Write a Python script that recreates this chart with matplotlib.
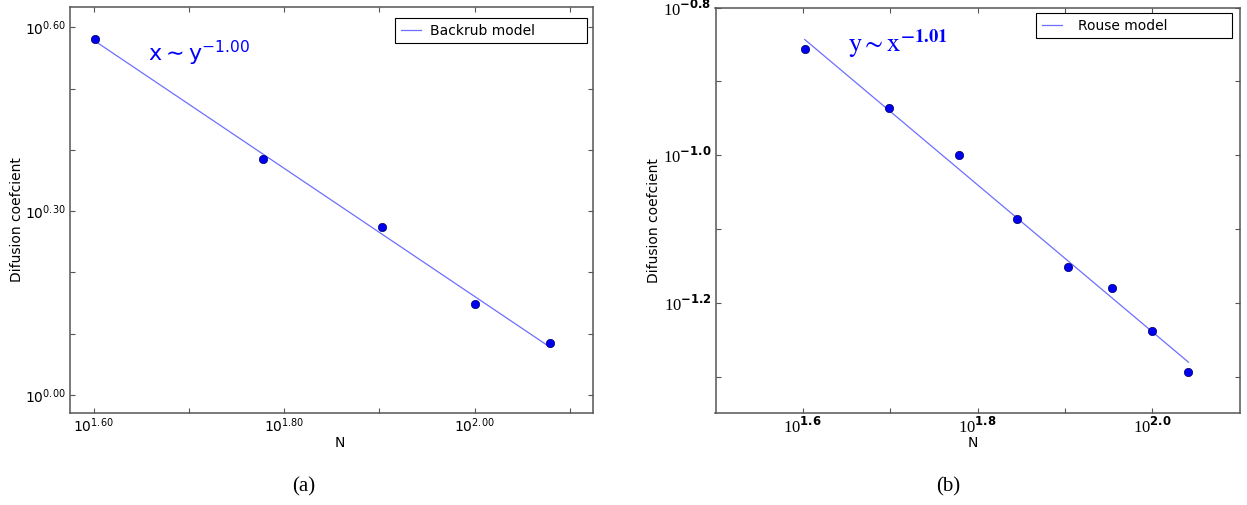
import numpy as np
import matplotlib
matplotlib.use('Agg')
import matplotlib.pyplot as plt
from matplotlib.ticker import FixedLocator, FuncFormatter, NullFormatter

plt.rcParams['mathtext.fontset'] = 'custom'
plt.rcParams['mathtext.rm'] = 'DejaVu Sans'
plt.rcParams['mathtext.sf'] = 'Liberation Serif'
plt.rcParams['mathtext.bf'] = 'DejaVu Sans:bold'

# (a) backrub model
n_backrub = [40, 60, 80, 100, 120]
d_backrub = [3.804, 2.423, 1.877, 1.406, 1.216]

# (b) rouse model
n_rouse = [40, 50, 60, 70, 80, 90, 100, 110]
d_rouse = [0.1392, 0.1157, 0.1002, 0.0819, 0.0705, 0.0660, 0.0577, 0.0509]

# tick exponents (labelled / unlabelled)
a_xmaj, a_xmin = [1.6, 1.8, 2.0], [1.7, 1.9, 2.1]
a_ymaj, a_ymin = [0.0, 0.3, 0.6], [0.1, 0.2, 0.4, 0.5]
b_xmaj, b_xmin = [1.6, 1.8, 2.0], [1.7, 1.9]
b_ymaj, b_ymin = [-0.8, -1.0, -1.2], [-0.9, -1.1, -1.3]

W, H = 1247, 505
SPINE = '#555555'
LINE = '#6e6eff'
DOT = '#0000ee'


def fit_line(n, d):
    lx, ly = np.log10(n), np.log10(d)
    k, b = np.polyfit(lx, ly, 1)
    return 10 ** lx, 10 ** (k * lx + b)


def style(ax, xmaj, xmin, ymaj, ymin, fmt, size):
    ax.set_xscale('log')
    ax.set_yscale('log')
    for axis, maj, mnr in ((ax.xaxis, xmaj, xmin), (ax.yaxis, ymaj, ymin)):
        axis.set_major_locator(FixedLocator(10 ** np.array(maj)))
        axis.set_minor_locator(FixedLocator(10 ** np.array(mnr)))
        axis.set_major_formatter(FuncFormatter(lambda v, p: fmt % np.log10(v)))
        axis.set_minor_formatter(NullFormatter())
    ax.tick_params(which='both', direction='in', top=True, right=True,
                   length=3.3, width=0.8, color=SPINE, labelsize=size, pad=3)
    for s in ax.spines.values():
        s.set_color(SPINE)
        s.set_linewidth(1.1)


fig = plt.figure(figsize=(W / 100, H / 100), dpi=100)

# ---- (a)
ax1 = fig.add_axes([70 / W, 1 - 412.7 / H, 523.3 / W, 405.4 / H])
style(ax1, a_xmaj, a_xmin, a_ymaj, a_ymin, r'$\mathrm{10}^{\mathrm{%.2f}}$', 10)
fx, fy = fit_line(n_backrub, d_backrub)
ax1.plot(fx, fy, color=LINE, lw=0.9, label='Backrub model')
ax1.plot(n_backrub, d_backrub, 'o', color=DOT, ms=6, mec='#000066', mew=0.5)
ax1.set_xlim(10 ** 1.5753, 10 ** 2.1247)
ax1.set_ylim(10 ** -0.0289, 10 ** 0.6326)
ax1.text(10 ** 1.657, 10 ** 0.544, r'$\mathrm{x} \sim \mathrm{y}^{-1.00}$',
         color='blue', fontsize=16, math_fontfamily='dejavusans', va='baseline')
ax1.set_xlabel('N', fontsize=10)
ax1.set_ylabel('Difusion coefcient', fontsize=10)
ax1.xaxis.set_label_coords(0.516, -0.058)
ax1.yaxis.set_label_coords(-0.088, 0.477)
leg = ax1.legend(loc='upper left', bbox_to_anchor=(0.621, 0.9112, 0.3675, 0.0617),
                 mode='expand', borderaxespad=0, fancybox=False, edgecolor='black',
                 framealpha=1, fontsize=10, handlelength=1.5, handletextpad=0.6)
leg.get_frame().set_linewidth(0.8)

# ---- (b)
ax2 = fig.add_axes([715.5 / W, 1 - 412.7 / H, 524.2 / W, 405.1 / H])
style(ax2, b_xmaj, b_xmin, b_ymaj, b_ymin, r'$\mathsf{10}^{\mathbf{%.1f}}$', 12)
fx, fy = fit_line(n_rouse, d_rouse)
ax2.plot(fx, fy, color=LINE, lw=0.9, label='Rouse model')
ax2.plot(n_rouse, d_rouse, 'o', color=DOT, ms=6, mec='#000066', mew=0.5)
ax2.set_xlim(10 ** 1.5, 10 ** 2.1)
ax2.set_ylim(10 ** -1.349, 10 ** -0.8)
ax2.text(10 ** 1.6514, 10 ** -0.86, r'$\mathrm{y} \sim \mathrm{x}^{\mathbf{-1.01}}$',
         color='blue', fontsize=19, math_fontfamily='stix', va='baseline')
ax2.set_xlabel('N', fontsize=10)
ax2.set_ylabel('Difusion coefcient', fontsize=10)
ax2.xaxis.set_label_coords(0.491, -0.058)
ax2.yaxis.set_label_coords(-0.104, 0.475)
leg = ax2.legend(loc='upper left', bbox_to_anchor=(0.6114, 0.9225, 0.3745, 0.0642),
                 mode='expand', borderaxespad=0, fancybox=False, edgecolor='black',
                 framealpha=1, fontsize=10, handlelength=1.5, handletextpad=1.1)
leg.get_frame().set_linewidth(0.8)

fig.text(303.7 / W, 1 - 487 / H, '(a)', family='Liberation Serif', fontsize=15,
         ha='center', va='center')
fig.text(948 / W, 1 - 487 / H, '(b)', family='Liberation Serif', fontsize=15,
         ha='center', va='center')

fig.savefig('out.png', dpi=100)
